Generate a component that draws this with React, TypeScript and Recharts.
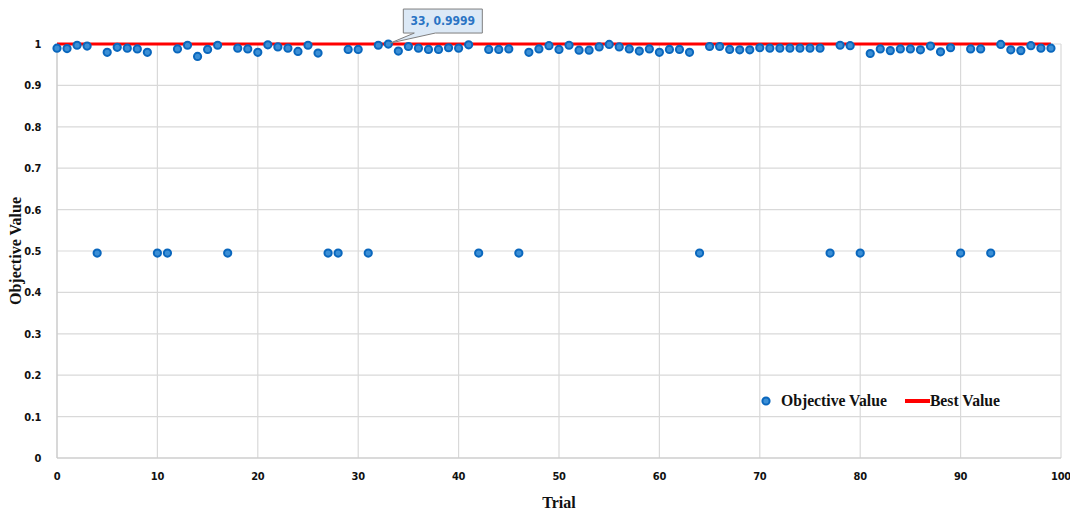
import { ComposedChart, Scatter, Line, XAxis, YAxis, CartesianGrid, ReferenceDot, Label } from 'recharts';

const objectiveValues = [
  0.99, 0.989, 0.997, 0.995, 0.495, 0.98, 0.992, 0.99, 0.988, 0.98,
  0.495, 0.495, 0.988, 0.997, 0.97, 0.987, 0.997, 0.495, 0.99, 0.988,
  0.98, 0.998, 0.993, 0.99, 0.982, 0.997, 0.978, 0.495, 0.495, 0.987,
  0.987, 0.495, 0.997, 0.9999, 0.983, 0.994, 0.99, 0.987, 0.987, 0.991,
  0.99, 0.998, 0.495, 0.987, 0.987, 0.988, 0.495, 0.98, 0.988, 0.996,
  0.987, 0.997, 0.985, 0.985, 0.993, 0.999, 0.993, 0.988, 0.983, 0.988,
  0.98, 0.987, 0.987, 0.98, 0.495, 0.994, 0.994, 0.987, 0.986, 0.986,
  0.991, 0.99, 0.99, 0.99, 0.99, 0.99, 0.99, 0.495, 0.997, 0.996,
  0.495, 0.977, 0.988, 0.984, 0.988, 0.988, 0.986, 0.995, 0.981, 0.991,
  0.495, 0.988, 0.988, 0.495, 0.999, 0.986, 0.984, 0.996, 0.99, 0.99,
];

const bestTrial = 33;
const bestValue = 0.9999;
const bestLine = [
  { trial: 0, value: bestValue },
  { trial: 99, value: bestValue },
];

const xTicks = [0, 10, 20, 30, 40, 50, 60, 70, 80, 90, 100];
const yTicks = [0, 0.1, 0.2, 0.3, 0.4, 0.5, 0.6, 0.7, 0.8, 0.9, 1];

const trialData = objectiveValues.map((value, trial) => ({ trial, value }));

const tickFont = "'Liberation Sans Narrow', 'DejaVu Sans Condensed', Arial, sans-serif";
const titleFont = "'Liberation Serif', 'Times New Roman', serif";

function Marker(props: any) {
  const { cx, cy } = props;
  if (cx == null || cy == null) return null;
  return <circle cx={cx} cy={cy} r={3.6} fill="#3b8fd6" stroke="#0a67bd" strokeWidth={2} />;
}

function Callout(props: any) {
  const { cx, cy } = props;
  if (cx == null || cy == null) return null;
  const left = cx + 15;
  const right = cx + 94;
  const top = cy - 35;
  const bottom = cy - 11;
  const d = `M${left},${top} H${right} V${bottom} H${cx + 47} L${cx + 2},${cy - 1} L${cx + 26},${bottom} H${left} Z`;
  return (
    <g>
      <path d={d} fill="#dce9f6" stroke="#7f7f7f" strokeWidth={1} />
      <text x={(left + right) / 2} y={top + 16} textAnchor="middle" fontFamily={tickFont} fontWeight="bold" fontSize={12} fill="#2a74c4">
        {`${bestTrial}, ${bestValue}`}
      </text>
    </g>
  );
}

function ChartLegend() {
  return (
    <div style={{ position: 'absolute', left: 760, top: 392, display: 'flex', alignItems: 'center', fontFamily: titleFont, fontWeight: 'bold', fontSize: 15.7, color: '#111', whiteSpace: 'nowrap' }}>
      <svg width={12} height={12} style={{ marginRight: 9 }}>
        <circle cx={6} cy={6} r={3.6} fill="#3b8fd6" stroke="#0a67bd" strokeWidth={2} />
      </svg>
      <span>Objective Value</span>
      <svg width={25} height={12} style={{ marginLeft: 18 }}>
        <line x1={0} y1={6} x2={25} y2={6} stroke="#ff0000" strokeWidth={4} />
      </svg>
      <span>Best Value</span>
    </div>
  );
}

export default function App() {
  return (
    <div style={{ position: 'absolute', left: 0, top: 0, width: 1070, height: 510, background: '#fff' }}>
      <ComposedChart width={1070} height={510} margin={{ top: 44, right: 9, bottom: 8, left: 17 }}>
        <CartesianGrid stroke="#d9d9d9" strokeWidth={1.2} />
        <XAxis
          type="number"
          dataKey="trial"
          domain={[0, 100]}
          ticks={xTicks}
          interval={0}
          height={44}
          tickLine={false}
          axisLine={{ stroke: '#c8c8c8' }}
          tick={{ fontFamily: tickFont, fontWeight: 'bold', fontSize: 11, fill: '#111', letterSpacing: -0.3 }}
          tickMargin={8}
        >
          <Label value="Trial" position="insideBottom" offset={-6} style={{ fontFamily: titleFont, fontWeight: 'bold', fontSize: 16, fill: '#111' }} />
        </XAxis>
        <YAxis
          type="number"
          dataKey="value"
          domain={[0, 1]}
          ticks={yTicks}
          interval={0}
          width={40}
          tickLine={false}
          axisLine={{ stroke: '#c8c8c8' }}
          tick={{ fontFamily: tickFont, fontWeight: 'bold', fontSize: 11, fill: '#111', letterSpacing: -0.3 }}
          tickMargin={10}
        >
          <Label value="Objective Value" angle={-90} position="insideLeft" offset={-2} style={{ textAnchor: 'middle', fontFamily: titleFont, fontWeight: 'bold', fontSize: 16, fill: '#111' }} />
        </YAxis>
        <Line
          data={bestLine}
          dataKey="value"
          stroke="#ff0000"
          strokeWidth={3}
          dot={false}
          isAnimationActive={false}
          legendType="none"
        />
        <Scatter
          data={trialData}
          dataKey="value"
          shape={<Marker />}
          isAnimationActive={false}
        />
        <ReferenceDot x={bestTrial} y={bestValue} shape={<Callout />} />
      </ComposedChart>
      <ChartLegend />
    </div>
  );
}
